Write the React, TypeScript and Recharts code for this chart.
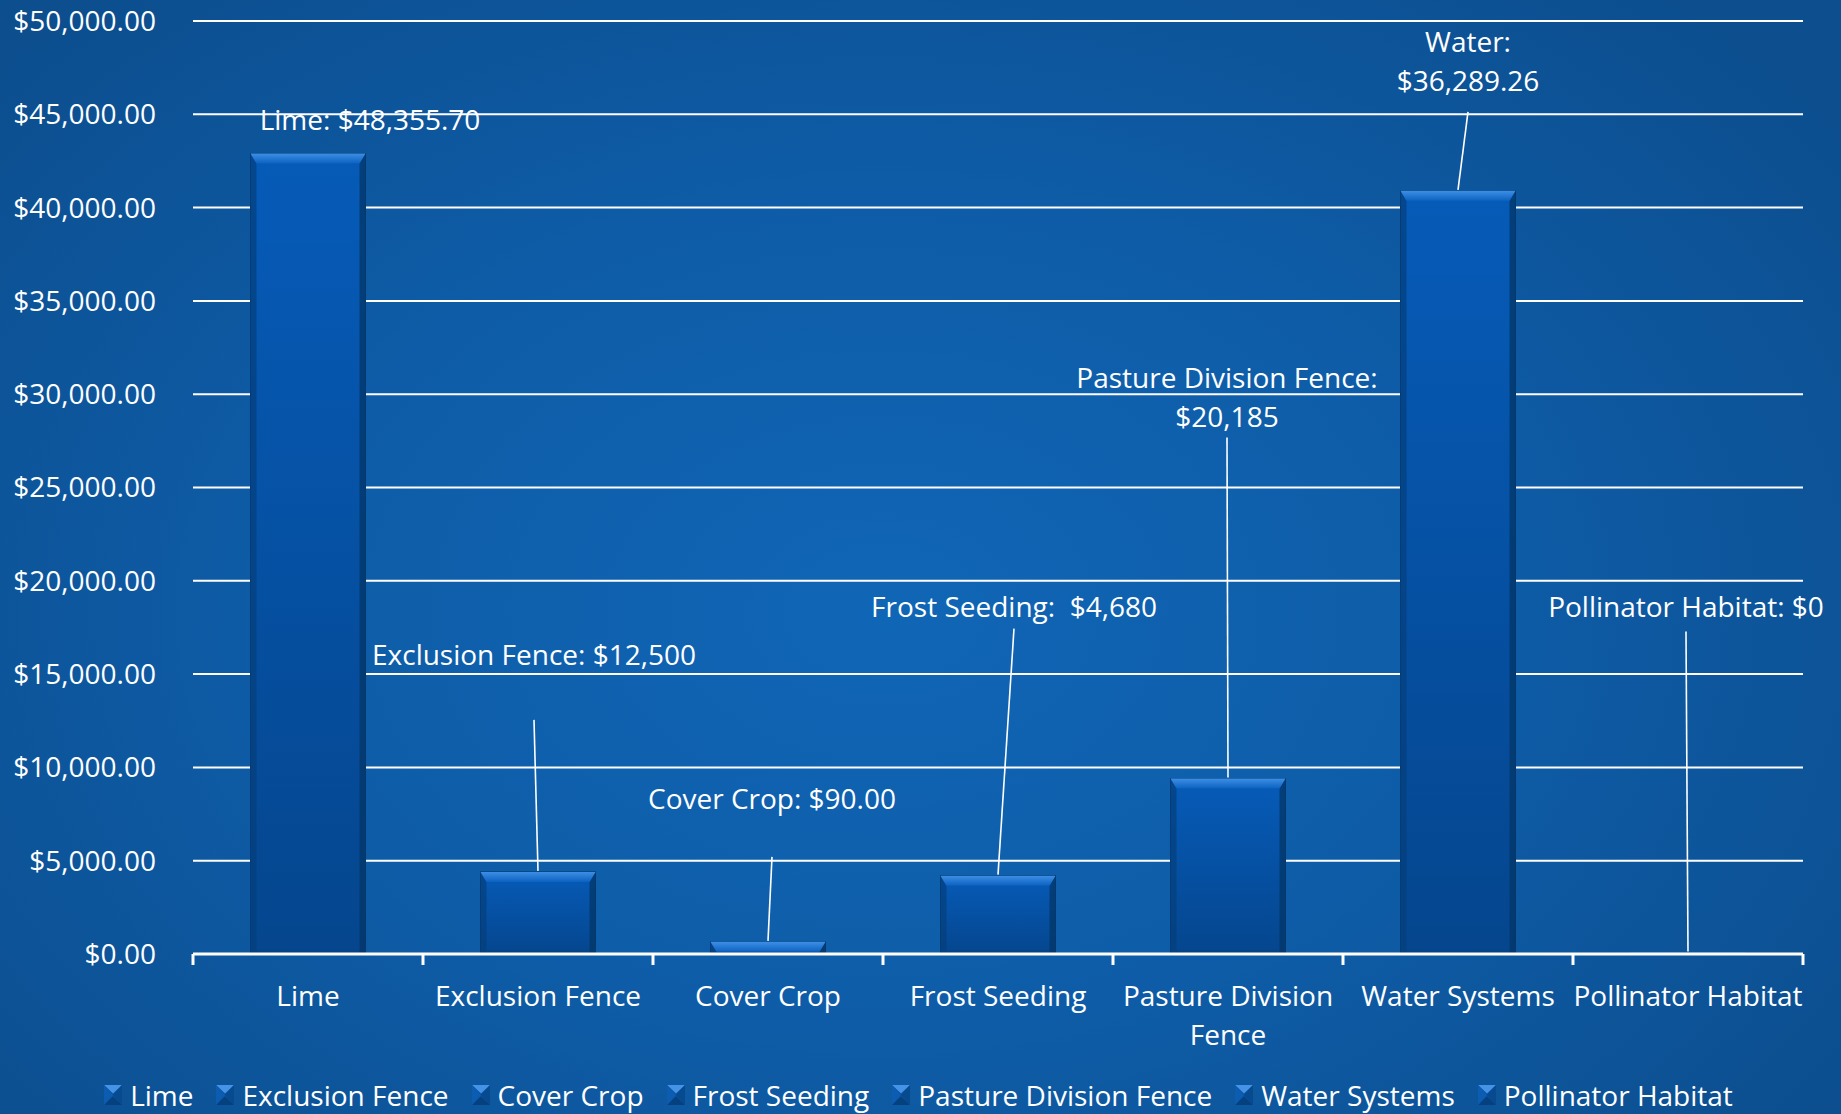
import { Bar, BarChart, CartesianGrid, LabelList, Legend, XAxis, YAxis } from 'recharts'

const CATEGORIES = [
  'Lime',
  'Exclusion Fence',
  'Cover Crop',
  'Frost Seeding',
  'Pasture Division Fence',
  'Water Systems',
  'Pollinator Habitat',
]

// bar heights
const AMOUNTS = [42900, 4400, 650, 4200, 9400, 40900, 80]

const Y_TICKS = [0, 5000, 10000, 15000, 20000, 25000, 30000, 35000, 40000, 45000, 50000]

// data label texts, as printed on the chart
const LABEL_LINES = [
  ['Lime: $48,355.70'],
  ['Exclusion Fence: $12,500'],
  ['Cover Crop: $90.00'],
  ['Frost Seeding:  $4,680'],
  ['Pasture Division Fence:', '$20,185'],
  ['Water:', '$36,289.26'],
  ['Pollinator Habitat: $0'],
]

// label offsets from the bar top (dx, dy of last line) and leader gap below text
const LABEL_PLACEMENT = [
  { dx: 62, dy: -34, gap: 0 },
  { dx: -4, dy: -218, gap: 66 },
  { dx: 4, dy: -144, gap: 59 },
  { dx: 16, dy: -270, gap: 23 },
  { dx: -1, dy: -363, gap: 22 },
  { dx: 10, dy: -111, gap: 32 },
  { dx: -2, dy: -347, gap: 26 },
]

const WIDTH = 1841
const HEIGHT = 1114
const MARGIN = { top: 21, right: 38, left: 0, bottom: 0 }
const Y_AXIS_W = 193
const HALF_BAND = (WIDTH - Y_AXIS_W - MARGIN.right) / CATEGORIES.length / 2
const FONT = '"Open Sans", sans-serif'
const LINE_H = 38.5
const LEGEND_H = 38

const chartData = CATEGORIES.map((name, i) => ({ name, amount: AMOUNTS[i] }))

function formatUSD(value: number): string {
  return `$${value.toLocaleString('en-US', { minimumFractionDigits: 2, maximumFractionDigits: 2 })}`
}

function wrapLabel(text: string, maxChars = 20): string[] {
  const lines: string[] = []
  let current = ''
  for (const word of text.split(' ')) {
    const next = current ? `${current} ${word}` : word
    if (next.length > maxChars && current) {
      lines.push(current)
      current = word
    } else {
      current = next
    }
  }
  if (current) lines.push(current)
  return lines
}

function BevelBar(props: any) {
  const { x, y, width, height } = props
  if (!width || height == null || height <= 0) return null
  if (height < 3) {
    return <rect x={x} y={y} width={width} height={height} fill="#1a6fd0" />
  }
  const b = Math.min(10, height)
  const e = Math.min(6, width / 2)
  return (
    <g>
      <rect x={x} y={y} width={width} height={height} fill="url(#barBody)" stroke="#043a72" strokeWidth={1} />
      <polygon
        points={`${x},${y} ${x + e},${y + b} ${x + e},${y + height} ${x},${y + height}`}
        fill="#043f7c"
        opacity={0.7}
      />
      <polygon
        points={`${x + width},${y} ${x + width - e},${y + b} ${x + width - e},${y + height} ${x + width},${y + height}`}
        fill="#033566"
        opacity={0.75}
      />
      <polygon
        points={`${x},${y} ${x + width},${y} ${x + width - e},${y + b} ${x + e},${y + b}`}
        fill="url(#barTop)"
      />
      {height > 14 ? (
        <rect x={x + e} y={y + height - 4} width={width - 2 * e} height={4} fill="#04417f" opacity={0.6} />
      ) : null}
    </g>
  )
}

function CategoryTick(props: any) {
  const { x, y, payload, index } = props
  const lines = wrapLabel(String(payload.value))
  const last = index === CATEGORIES.length - 1
  return (
    <g>
      <line x1={x - HALF_BAND} y1={y} x2={x - HALF_BAND} y2={y + 11} stroke="#fff" strokeWidth={3} />
      {last ? (
        <line x1={x + HALF_BAND} y1={y} x2={x + HALF_BAND} y2={y + 11} stroke="#fff" strokeWidth={3} />
      ) : null}
      {lines.map((line, i) => (
        <text
          key={line}
          x={x}
          y={y + 41 + i * LINE_H}
          textAnchor="middle"
          dominantBaseline="central"
          fill="#fff"
          fontSize={28}
          fontFamily={FONT}
        >
          {line}
        </text>
      ))}
    </g>
  )
}

function CalloutLabel(props: any) {
  const vb = props.viewBox ?? props
  let index = props.index
  if (index == null) index = AMOUNTS.indexOf(Number(props.value))
  if (index < 0 || index == null) return null
  const cx = vb.x + vb.width / 2
  const top = vb.y
  const place = LABEL_PLACEMENT[index]
  const lines = LABEL_LINES[index]
  const lx = cx + place.dx
  const lastY = top + place.dy
  return (
    <g>
      {lines.map((line, i) => (
        <text
          key={line}
          x={lx}
          y={lastY - (lines.length - 1 - i) * LINE_H}
          textAnchor="middle"
          dominantBaseline="central"
          fill="#fff"
          fontSize={28}
          fontFamily={FONT}
          style={{ whiteSpace: 'pre' }}
        >
          {line}
        </text>
      ))}
      {place.gap > 0 ? (
        <line x1={lx} y1={lastY + place.gap} x2={cx} y2={top - 1} stroke="#fff" strokeWidth={1.6} />
      ) : null}
    </g>
  )
}

function LegendMarker() {
  return (
    <svg width={18} height={20} style={{ display: 'block' }}>
      <rect x={0} y={0} width={18} height={20} fill="#0b52a0" />
      <polygon points="0,0 18,0 9,8.5" fill="#4593e6" />
      <polygon points="0,20 18,20 9,11.5" fill="#05407f" />
      <polygon points="0,0 9,10 0,20" fill="#0c5cb2" />
      <polygon points="18,0 9,10 18,20" fill="#084a8e" />
    </svg>
  )
}

function CategoryLegend() {
  return (
    <div
      style={{
        height: LEGEND_H,
        display: 'flex',
        justifyContent: 'center',
        alignItems: 'center',
        gap: 23,
        paddingLeft: 34,
        fontFamily: FONT,
        fontSize: 28,
        color: '#fff',
        lineHeight: `${LEGEND_H}px`,
        whiteSpace: 'nowrap',
      }}
    >
      {CATEGORIES.map((name) => (
        <div key={name} style={{ display: 'flex', alignItems: 'center', gap: 8 }}>
          <LegendMarker />
          <span>{name}</span>
        </div>
      ))}
    </div>
  )
}

export default function App() {
  return (
    <div
      style={{
        width: WIDTH,
        height: HEIGHT,
        position: 'relative',
        overflow: 'hidden',
        fontFamily: FONT,
        background:
          'radial-gradient(ellipse 65% 75% at 48% 55%, #1066b6 0%, #0e5ca7 50%, #0c4e8e 100%)',
      }}
    >
      <style>{'body{margin:0}'}</style>
      <BarChart width={WIDTH} height={HEIGHT} data={chartData} margin={MARGIN} barCategoryGap="25%">
        <defs>
          <linearGradient id="barBody" x1="0" y1="0" x2="0" y2="1">
            <stop offset="0%" stopColor="#065bb8" />
            <stop offset="100%" stopColor="#05468e" />
          </linearGradient>
          <linearGradient id="barTop" x1="0" y1="0" x2="0" y2="1">
            <stop offset="0%" stopColor="#3d8fe4" />
            <stop offset="100%" stopColor="#0c62c2" />
          </linearGradient>
        </defs>
        <CartesianGrid vertical={false} stroke="#ffffff" strokeWidth={2} />
        <XAxis
          dataKey="name"
          interval={0}
          height={HEIGHT - MARGIN.top - 933 - LEGEND_H}
          axisLine={{ stroke: '#ffffff', strokeWidth: 3 }}
          tickLine={false}
          tickSize={0}
          tickMargin={0}
          tick={<CategoryTick />}
        />
        <YAxis
          width={Y_AXIS_W}
          domain={[0, 50000]}
          ticks={Y_TICKS}
          interval={0}
          axisLine={false}
          tickLine={false}
          tickSize={0}
          tickMargin={37}
          tickFormatter={formatUSD}
          tick={{ fill: '#ffffff', fontSize: 28, fontFamily: FONT }}
        />
        <Legend verticalAlign="bottom" content={<CategoryLegend />} />
        <Bar dataKey="amount" shape={<BevelBar />} isAnimationActive={false}>
          <LabelList dataKey="amount" content={<CalloutLabel />} />
        </Bar>
      </BarChart>
    </div>
  )
}
